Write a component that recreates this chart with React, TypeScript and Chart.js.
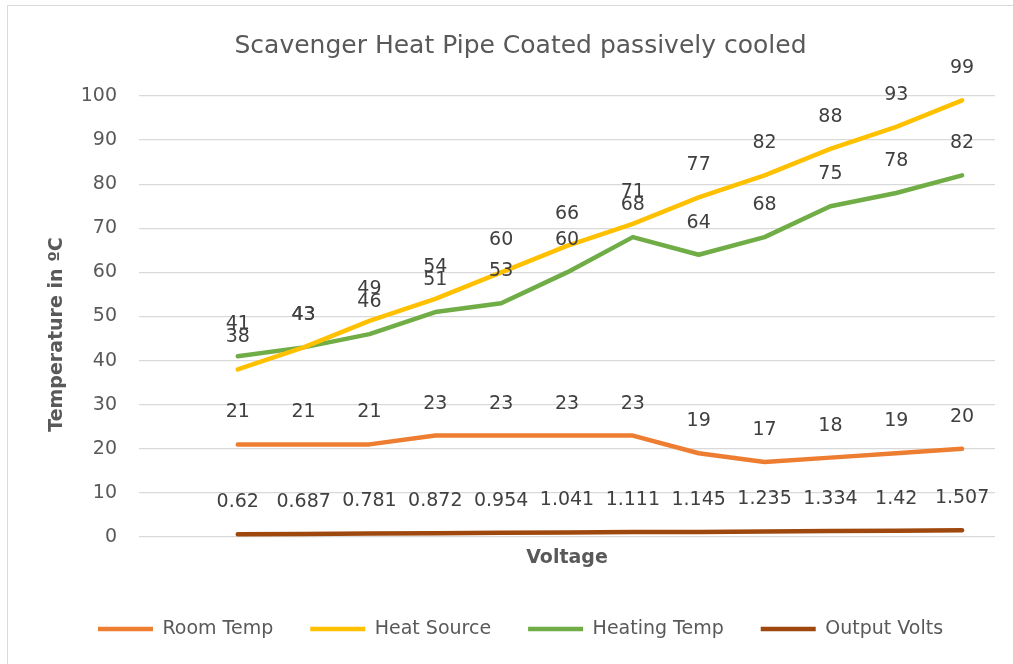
import React, { useEffect, useRef } from "react";
import { Chart, registerables } from "chart.js";

Chart.register(...registerables);

const categories = ["", "1", "2", "3", "4", "5", "6", "7", "8", "9", "10", "11", "12"];
const roomTemp = [null, 21, 21, 21, 23, 23, 23, 23, 19, 17, 18, 19, 20];
const heatSource = [null, 38, 43, 49, 54, 60, 66, 71, 77, 82, 88, 93, 99];
const heatingTemp = [null, 41, 43, 46, 51, 53, 60, 68, 64, 68, 75, 78, 82];
const outputVolts = [null, 0.62, 0.687, 0.781, 0.872, 0.954, 1.041, 1.111, 1.145, 1.235, 1.334, 1.42, 1.507];
const yTicks = [0, 10, 20, 30, 40, 50, 60, 70, 80, 90, 100];
const yTitle = "Temperature in ºC";

const FONT = "'DejaVu Sans', 'Noto Sans', sans-serif";
const TEXT = "#595959";

const bgPlugin = {
  id: "bgBorder",
  beforeDraw(chart: any) {
    const ctx = chart.ctx;
    ctx.save();
    ctx.fillStyle = "#ffffff";
    ctx.fillRect(0, 0, chart.width, chart.height);
    ctx.strokeStyle = "#d9d9d9";
    ctx.lineWidth = 1;
    ctx.beginPath();
    ctx.moveTo(7.5, chart.height);
    ctx.lineTo(7.5, 5.5);
    ctx.lineTo(chart.width, 5.5);
    ctx.stroke();
    ctx.restore();
  },
};

const yTitlePlugin = {
  id: "yTitle",
  afterDraw(chart: any) {
    const ctx = chart.ctx;
    const area = chart.chartArea;
    ctx.save();
    ctx.font = `bold 19px ${FONT}`;
    ctx.fillStyle = TEXT;
    ctx.textAlign = "center";
    ctx.textBaseline = "middle";
    ctx.translate(57, (area.top + area.bottom) / 2 + 18);
    ctx.rotate(-Math.PI / 2);
    ctx.fillText(yTitle, 0, 0);
    ctx.restore();
  },
};

const labelPlugin = {
  id: "dataLabels",
  afterDatasetsDraw(chart: any) {
    const ctx = chart.ctx;
    ctx.save();
    ctx.font = `19px ${FONT}`;
    ctx.fillStyle = "#404040";
    ctx.textAlign = "center";
    ctx.textBaseline = "middle";
    chart.data.datasets.forEach((ds: any, i: number) => {
      const meta = chart.getDatasetMeta(i);
      meta.data.forEach((pt: any, j: number) => {
        const v = ds.data[j];
        if (v === null || v === undefined) return;
        ctx.fillText(String(v), pt.x, pt.y - 32);
      });
    });
    ctx.restore();
  },
};

export default function App() {
  const ref = useRef<HTMLCanvasElement>(null);
  useEffect(() => {
    if (!ref.current) return;
    const mk = (label: string, data: any[], color: string) => ({
      label,
      data,
      borderColor: color,
      backgroundColor: color,
      borderWidth: 4.5,
      pointRadius: 0,
      pointHoverRadius: 0,
      tension: 0,
      borderCapStyle: "round",
      borderJoinStyle: "round",
      spanGaps: false,
    });
    const chart = new Chart(ref.current, {
      type: "line",
      data: {
        labels: categories,
        datasets: [
          mk("Room Temp", roomTemp, "#ED7D31"),
          mk("Heat Source", heatSource, "#FFC000"),
          mk("Heating Temp", heatingTemp, "#70AD47"),
          mk("Output Volts", outputVolts, "#9E480E"),
        ] as any,
      },
      options: {
        responsive: false,
        animation: false,
        devicePixelRatio: 1,
        layout: { padding: { left: 46, right: 18, top: 20, bottom: 15.5 } },
        plugins: {
          tooltip: { enabled: false },
          title: {
            display: true,
            text: "Scavenger Heat Pipe Coated passively cooled",
            color: TEXT,
            font: { family: FONT, size: 25, weight: "normal" },
            padding: { top: 11, bottom: 35 },
          },
          legend: {
            position: "bottom",
            labels: {
              usePointStyle: true,
              pointStyle: "line",
              pointStyleWidth: 55,
              color: TEXT,
              padding: 37,
              font: { family: FONT, size: 19 },
            },
          },
        },
        scales: {
          x: {
            type: "category",
            offset: true,
            grid: { display: false },
            border: { display: false },
            ticks: { display: false },
            title: {
              display: true,
              text: "Voltage",
              color: TEXT,
              font: { family: FONT, size: 19, weight: "bold" },
              padding: { top: 0, bottom: 13.5 },
            },
            afterFit: (s: any) => {
              s.height = 45.5;
            },
          },
          y: {
            min: 0,
            max: 100,
            afterBuildTicks: (s: any) => {
              s.ticks = yTicks.map((v) => ({ value: v }));
            },
            grid: { color: "#d9d9d9", lineWidth: 1.3, drawTicks: false },
            border: { display: false },
            ticks: {
              color: TEXT,
              padding: 22,
              font: { family: FONT, size: 19 },
            },
            title: { display: false },
            afterFit: (s: any) => {
              s.width = 93;
            },
          },
        },
      },
      plugins: [bgPlugin, labelPlugin, yTitlePlugin],
    } as any);
    return () => chart.destroy();
  }, []);
  return (
    <div style={{ position: "absolute", left: 0, top: 0, width: 1013, height: 664, background: "#fff" }}>
      <canvas ref={ref} width={1013} height={664} style={{ display: "block" }} />
    </div>
  );
}
